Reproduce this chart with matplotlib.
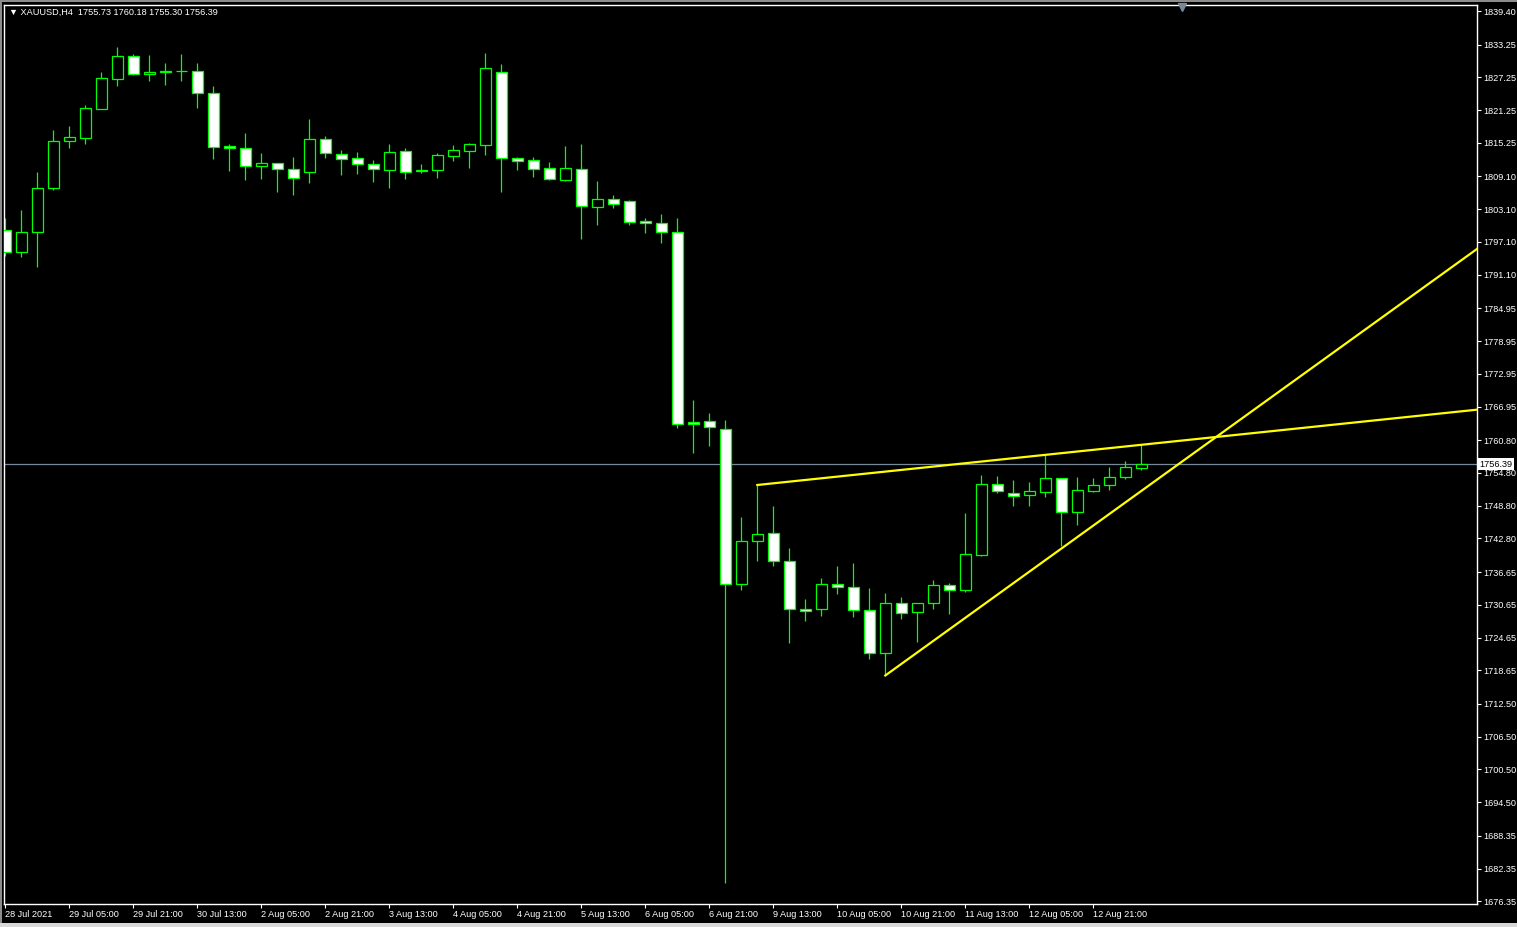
import matplotlib
matplotlib.use('Agg')
import matplotlib.pyplot as plt
import matplotlib.transforms as mtransforms
from matplotlib.patches import Rectangle

# XAUUSD H4 candles, 28 Jul 2021 13:00 .. 13 Aug 2021 09:00
opens = [1799.24, 1795.21, 1798.87, 1806.95, 1815.54, 1816.20, 1821.51, 1827.00, 1831.10, 1827.95,
         1828.20, 1828.40, 1828.45, 1824.32, 1814.62, 1814.25, 1811.06, 1811.50, 1810.40, 1809.96,
         1815.90, 1813.15, 1812.42, 1811.32, 1810.33, 1813.70, 1810.05, 1810.33, 1812.90, 1813.81,
         1814.91, 1828.17, 1812.42, 1812.05, 1810.59, 1808.50, 1810.40, 1803.56, 1804.91, 1804.54,
         1800.88, 1800.51, 1798.87, 1764.07, 1764.25, 1762.79, 1734.40, 1742.28, 1743.74, 1738.61,
         1729.82, 1729.82, 1734.40, 1733.85, 1729.64, 1721.76, 1730.92, 1729.27, 1730.92, 1734.22,
         1733.30, 1739.82, 1752.71, 1751.07, 1750.70, 1751.25, 1753.81, 1747.59, 1751.43, 1752.53,
         1754.00, 1755.73]
highs = [1801.43, 1802.95, 1809.91, 1817.61, 1818.34, 1822.19, 1828.23, 1832.80, 1831.52, 1831.34,
         1829.87, 1831.52, 1829.87, 1825.66, 1814.98, 1817.05, 1813.39, 1811.56, 1812.66, 1819.62,
         1816.45, 1813.94, 1813.57, 1812.11, 1815.04, 1814.31, 1811.38, 1813.39, 1814.85, 1815.17,
         1831.70, 1829.69, 1812.66, 1812.66, 1811.74, 1814.67, 1815.04, 1808.26, 1805.70, 1804.73,
         1801.49, 1802.22, 1801.49, 1768.15, 1765.77, 1764.49, 1746.73, 1752.59, 1748.74, 1741.05,
         1731.71, 1735.55, 1737.75, 1738.30, 1733.72, 1732.81, 1732.08, 1730.97, 1735.19, 1734.58,
         1747.46, 1754.42, 1754.24, 1753.45, 1753.14, 1758.03, 1753.87, 1754.05, 1753.81, 1755.88,
         1756.98, 1760.18]
lows = [1794.58, 1794.40, 1792.57, 1806.67, 1814.37, 1815.09, 1821.40, 1825.72, 1827.73, 1826.63,
        1825.90, 1826.63, 1821.69, 1812.35, 1810.15, 1808.50, 1808.68, 1806.30, 1805.75, 1807.95,
        1812.53, 1809.42, 1809.60, 1808.13, 1807.04, 1808.68, 1809.78, 1808.87, 1811.98, 1810.70,
        1813.08, 1806.30, 1810.33, 1809.05, 1808.50, 1808.32, 1797.64, 1800.26, 1803.37, 1800.26,
        1798.79, 1796.96, 1763.08, 1758.50, 1759.78, 1679.75, 1733.41, 1738.72, 1737.81, 1723.71,
        1727.74, 1728.65, 1732.68, 1728.47, 1720.78, 1717.70, 1728.10, 1723.89, 1729.79, 1728.91,
        1733.04, 1739.64, 1751.07, 1748.80, 1748.80, 1750.44, 1741.42, 1745.32, 1751.30, 1751.62,
        1753.74, 1755.30]
closes = [1795.21, 1798.87, 1806.93, 1815.54, 1816.27, 1821.58, 1827.08, 1831.10, 1827.92, 1828.20,
          1828.40, 1828.45, 1824.32, 1814.54, 1814.37, 1811.06, 1811.50, 1810.40, 1808.76, 1815.90,
          1813.33, 1812.35, 1811.32, 1810.40, 1813.52, 1809.96, 1810.25, 1812.97, 1813.88, 1814.98,
          1828.90, 1812.42, 1811.87, 1810.51, 1808.68, 1810.59, 1803.74, 1804.91, 1803.99, 1800.81,
          1800.51, 1798.87, 1763.70, 1763.70, 1763.15, 1734.40, 1742.28, 1743.56, 1738.61, 1729.82,
          1729.46, 1734.40, 1733.85, 1729.64, 1721.76, 1730.92, 1729.09, 1730.92, 1734.22, 1733.30,
          1739.89, 1752.71, 1751.43, 1750.52, 1751.43, 1753.81, 1747.59, 1751.62, 1752.53, 1754.00,
          1755.83, 1756.39]

time_labels = ["28 Jul 2021", "29 Jul 05:00", "29 Jul 21:00", "30 Jul 13:00", "2 Aug 05:00",
               "2 Aug 21:00", "3 Aug 13:00", "4 Aug 05:00", "4 Aug 21:00", "5 Aug 13:00",
               "6 Aug 05:00", "6 Aug 21:00", "9 Aug 13:00", "10 Aug 05:00", "10 Aug 21:00",
               "11 Aug 13:00", "12 Aug 05:00", "12 Aug 21:00"]
time_label_every = 4

price_labels = ["1839.40", "1833.25", "1827.25", "1821.25", "1815.25", "1809.10", "1803.10",
                "1797.10", "1791.10", "1784.95", "1778.95", "1772.95", "1766.95", "1760.80",
                "1754.80", "1748.80", "1742.80", "1736.65", "1730.65", "1724.65", "1718.65",
                "1712.50", "1706.50", "1700.50", "1694.50", "1688.35", "1682.35", "1676.35"]

# trend lines: (bar index, price) anchors, drawn as rays to the right
trend_upper = [(47, 1752.59), (71, 1759.95)]
trend_lower = [(55, 1717.70), (71, 1751.50)]

symbol_text = "XAUUSD,H4  1755.73 1760.18 1755.30 1756.39"
last_price = 1756.39

GREEN = '#00ff00'
W, H = 1517, 927
fig = plt.figure(figsize=(W / 100, H / 100), dpi=100, facecolor='black')
ax = fig.add_axes([4 / W, 1 - 904 / H, 1473 / W, 899 / H], facecolor='black')

x = list(range(len(opens)))
ax.vlines(x, lows, highs, color=GREEN, linewidth=0.9, zorder=2)
bottoms = [min(o, c) for o, c in zip(opens, closes)]
heights = [abs(c - o) for o, c in zip(opens, closes)]
faces = ['black' if c > o else 'white' for o, c in zip(opens, closes)]
ax.bar(x, heights, bottom=bottoms, width=0.66, color=faces, edgecolor=GREEN,
       linewidth=0.9, zorder=3)

xmin, xmax = -0.08, 91.98
ax.set_xlim(xmin, xmax)
ax.set_ylim(1675.85, 1840.50)

for (x0, y0), (x1, y1) in (trend_upper, trend_lower):
    slope = (y1 - y0) / (x1 - x0)
    ax.plot([x0, xmax + 1], [y0, y0 + slope * (xmax + 1 - x0)], color='#ffff00',
            linewidth=1.6, zorder=4)

ax.axhline(last_price, color='#778899', linewidth=0.9, zorder=1)

# axes styling
for sp in ax.spines.values():
    sp.set_color('white')
    sp.set_linewidth(1.0)
ax.yaxis.tick_right()
ax.set_yticks([float(p) for p in price_labels])
ax.set_yticklabels(price_labels)
ax.set_xticks([i * time_label_every for i in range(len(time_labels))])
ax.set_xticklabels(time_labels, ha='left')
ax.tick_params(colors='white', labelcolor='white', length=3, width=0.8, pad=1.5,
               labelsize=6.6)
for lab in ax.get_xticklabels() + ax.get_yticklabels():
    lab.set_family('Liberation Sans')

trans = mtransforms.blended_transform_factory(ax.transAxes, ax.transData)
ax.text(1.0015, last_price, f"{last_price:.2f}", transform=trans, color='black',
        fontsize=6.6, family='Liberation Sans', va='center', ha='left', zorder=10,
        clip_on=False, bbox=dict(facecolor='white', edgecolor='none', pad=1.0))

# chart shift marker
ax.plot([0.7995], [0.9975], marker='v', markersize=6, color='#778899',
        transform=ax.transAxes, clip_on=False, zorder=6)

fig.text(9 / W, 1 - 12 / H, "\u25bc " + symbol_text, color='white', fontsize=6.6,
         family=['Liberation Sans', 'DejaVu Sans'], va='center', ha='left')

# window edges
fig.patches.append(Rectangle((0, 1 - 2 / H), 1, 2 / H, transform=fig.transFigure,
                             facecolor='#8c8c8c', edgecolor='none'))
fig.patches.append(Rectangle((0, 0), 2 / W, 1, transform=fig.transFigure,
                             facecolor='#8c8c8c', edgecolor='none'))
fig.patches.append(Rectangle((0, 0), 1, 4 / H, transform=fig.transFigure,
                             facecolor='#d8d8d8', edgecolor='none'))

fig.savefig('out.png', dpi=100, facecolor='black')
